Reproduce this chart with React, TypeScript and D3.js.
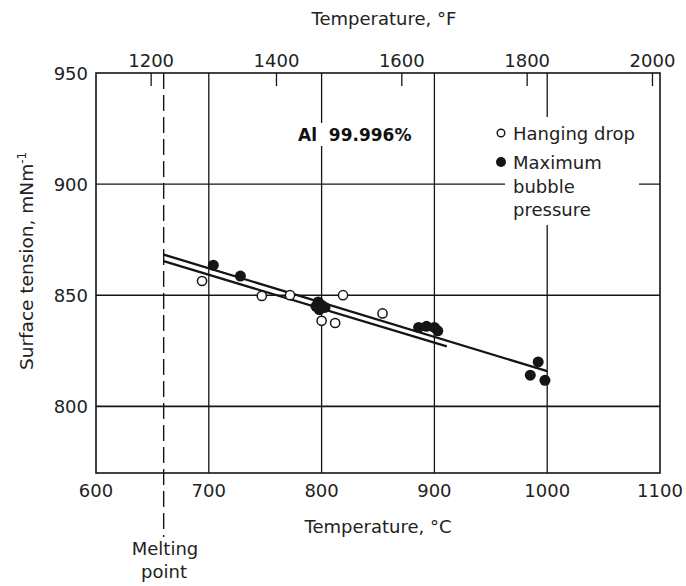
import React from "react";
import * as d3 from "d3";

const celsiusTicks = [600, 700, 800, 900, 1000, 1100];
const gridCelsius = [700, 800, 900, 1000];
const fahrenheitTicks = [1200, 1400, 1600, 1800, 2000];
const tensionTicks = [800, 850, 900, 950];
const gridTension = [800, 850, 900];

const hangingT = [694, 747, 772, 800, 812, 819, 854];
const hangingS = [856.4, 849.7, 850, 838.5, 837.5, 850, 841.8];

const bubbleT = [704, 728, 795, 797, 800, 803, 798, 886, 893, 900, 903, 985, 992, 998];
const bubbleS = [863.5, 858.6, 845, 847, 845.5, 844.5, 843.5, 835.5, 836, 835.5, 834, 814, 820, 811.7];

const fitUpperT = [660, 1000];
const fitUpperS = [868.3, 815.8];
const fitLowerT = [660, 911];
const fitLowerS = [865.3, 827.0];

const meltingPoint = 660;

export default function App() {
  const W = 686, H = 586;
  const L = 96, R = 660, T = 73, B = 473;
  const x = d3.scaleLinear().domain([600, 1100]).range([L, R]);
  const y = d3.scaleLinear().domain([770, 950]).range([B, T]);
  const xF = d3.scaleLinear().domain([600 * 1.8 + 32, 1100 * 1.8 + 32]).range([L, R]);
  const line = d3.line<[number, number]>().x(d => x(d[0])).y(d => y(d[1]));
  const upper = line(fitUpperT.map((t, i) => [t, fitUpperS[i]] as [number, number]));
  const lower = line(fitLowerT.map((t, i) => [t, fitLowerS[i]] as [number, number]));
  const font = "'DejaVu Sans', sans-serif";
  const ink = "#151515";
  return (
    <svg width={W} height={H} style={{ position: "absolute", left: 0, top: 0, background: "#fff" }} fontFamily={font}>
      <rect x={0} y={0} width={W} height={H} fill="#fff" />
      {/* grid */}
      {gridCelsius.map(c => (
        <line key={"gx" + c} x1={x(c)} x2={x(c)} y1={T} y2={B} stroke={ink} strokeWidth={1.3} />
      ))}
      {gridTension.map(s => (
        <line key={"gy" + s} x1={L} x2={R} y1={y(s)} y2={y(s)} stroke={ink} strokeWidth={s === 800 ? 1.8 : 1.4} />
      ))}
      {/* white patches behind labels */}
      <rect x={296} y={123} width={120} height={23} fill="#fff" />
      <rect x={505} y={117} width={134} height={108} fill="#fff" />
      {/* frame */}
      <rect x={L} y={T} width={R - L} height={B - T} fill="none" stroke={ink} strokeWidth={1.6} />
      {/* top F ticks */}
      {fahrenheitTicks.map(f => (
        <g key={"f" + f}>
          <line x1={xF(f)} x2={xF(f)} y1={T} y2={T + 13} stroke={ink} strokeWidth={1.3} />
          <text x={xF(f)} y={T - 6} textAnchor="middle" fontSize={18} fill="#222">{f}</text>
        </g>
      ))}
      {/* melting point */}
      <line x1={x(meltingPoint)} x2={x(meltingPoint)} y1={T} y2={B + 64} stroke={ink} strokeWidth={1.4} strokeDasharray="16 6" />
      {/* bottom labels */}
      {celsiusTicks.map(c => (
        <text key={"c" + c} x={x(c)} y={B + 24} textAnchor="middle" fontSize={18} fill="#222">{c}</text>
      ))}
      {tensionTicks.map(s => (
        <text key={"s" + s} x={L - 8} y={y(s) + 6.5} textAnchor="end" fontSize={18} fill="#222">{s}</text>
      ))}
      {/* fit lines */}
      <path d={upper || ""} fill="none" stroke={ink} strokeWidth={2.3} />
      <path d={lower || ""} fill="none" stroke={ink} strokeWidth={2.3} />
      {/* points */}
      {bubbleT.map((t, i) => (
        <circle key={"b" + i} cx={x(t)} cy={y(bubbleS[i])} r={5.5} fill={ink} />
      ))}
      {hangingT.map((t, i) => (
        <circle key={"h" + i} cx={x(t)} cy={y(hangingS[i])} r={4.6} fill="#fff" stroke={ink} strokeWidth={1.5} />
      ))}
      {/* annotation */}
      <text x={298} y={141} fontSize={17} fontWeight="bold" fill="#111" style={{ whiteSpace: "pre" }}>{"Al  99.996%"}</text>
      {/* legend */}
      <circle cx={501} cy={133} r={3.8} fill="#fff" stroke={ink} strokeWidth={1.4} />
      <text x={513} y={139.5} fontSize={18} fill="#222">Hanging drop</text>
      <circle cx={501} cy={162} r={5} fill={ink} />
      <text x={513} y={169} fontSize={18} fill="#222">Maximum</text>
      <text x={513} y={193} fontSize={18} fill="#222">bubble</text>
      <text x={513} y={216} fontSize={18} fill="#222">pressure</text>
      {/* axis titles */}
      <text x={384} y={25} textAnchor="middle" fontSize={18} fill="#222">Temperature, °F</text>
      <text x={378} y={533} textAnchor="middle" fontSize={18} fill="#222">Temperature, °C</text>
      <text x={165} y={555} textAnchor="middle" fontSize={18} fill="#222">Melting</text>
      <text x={164} y={578} textAnchor="middle" fontSize={18} fill="#222">point</text>
      <text transform="translate(33,370) rotate(-90)" fontSize={18.5} fill="#222">
        Surface tension, mNm<tspan dy={-7} fontSize={12}>-1</tspan>
      </text>
    </svg>
  );
}
